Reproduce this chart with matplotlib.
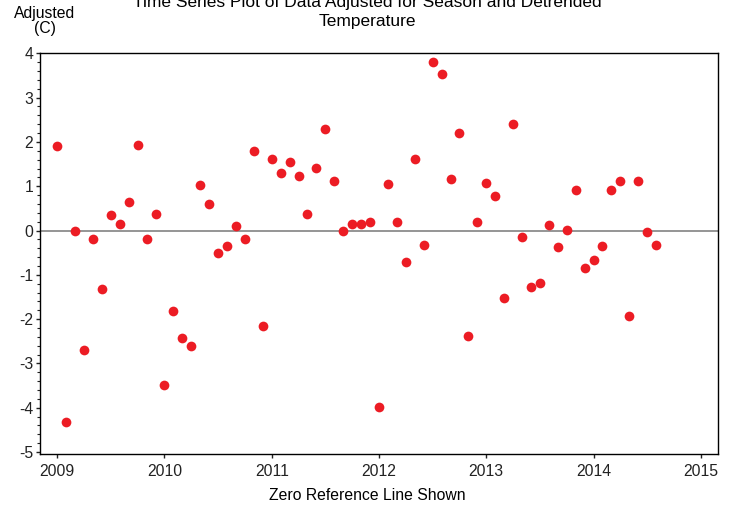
from matplotlib import pyplot as plt
from matplotlib.ticker import MultipleLocator
import numpy

# monthly series, Jan 2009 .. Aug 2014
start_year = 2009
adjusted = [1.91, -4.32, -0.02, -2.70, -0.20, -1.33, 0.34, 0.15, 0.65, 1.94, -0.19, 0.37,
            -3.49, -1.81, -2.43, -2.61, 1.02, 0.59, -0.51, -0.35, 0.10, -0.20, 1.79, -2.16,
            1.61, 1.30, 1.55, 1.23, 0.37, 1.42, 2.29, 1.12, -0.02, 0.14, 0.14, 0.20,
            -3.99, 1.04, 0.20, -0.70, 1.61, -0.32, 3.81, 3.53, 1.17, 2.21, -2.39, 0.20,
            1.08, 0.78, -1.53, 2.40, -0.14, -1.27, -1.19, 0.12, -0.38, 0.02, 0.92, -0.85,
            -0.66, -0.36, 0.91, 1.12, -1.94, 1.12, -0.03, -0.32]
year_ticks = [2009, 2010, 2011, 2012, 2013, 2014, 2015]
y_ticks = [4, 3, 2, 1, 0, -1, -2, -3, -4, -5]

plt.rcParams['font.family'] = ['Liberation Sans', 'DejaVu Sans']
plt.rcParams['axes.unicode_minus'] = False

x = start_year + numpy.arange(len(adjusted)) / 12.0

fig = plt.figure(figsize=(7.35, 5.07), dpi=100)
ax = fig.add_axes([40 / 735, 1 - 454.3 / 507, 678 / 735, (454.3 - 53.3) / 507])

ax.axhline(0, color='#8c8c8c', lw=1.3, zorder=1)
ax.plot(x, adjusted, 'o', color='#ec1c24', markersize=7, markeredgewidth=0, zorder=3)

ax.set_xlim(2008.84, 2015.16)
ax.set_ylim(-5.05, 4.0)
ax.set_xticks(year_ticks)
ax.set_yticks(y_ticks)
ax.yaxis.set_minor_locator(MultipleLocator(0.2))

for s in ax.spines.values():
  s.set_linewidth(1.0)
  s.set_color('black')

ax.tick_params(axis='x', which='major', length=3, width=1.0, pad=4, labelsize=11.3, colors='#222222')
ax.tick_params(axis='y', which='major', length=3, width=1.0, pad=2, labelsize=11.3, colors='#222222')
ax.tick_params(axis='y', which='minor', length=2, width=0.8, colors='#222222')

# title sits partly above the top edge, as in the source picture
fig.text(0.5, 1 - 6.7 / 507, 'Time Series Plot of Data Adjusted for Season and Detrended',
         ha='center', va='baseline', fontsize=12.5)
fig.text(0.5, 1 - 25.7 / 507, 'Temperature', ha='center', va='baseline', fontsize=12.5)

fig.text(44.5 / 735, 1 - 18.3 / 507, 'Adjusted', ha='center', va='baseline', fontsize=11.3)
fig.text(44.5 / 735, 1 - 32.7 / 507, '(C)', ha='center', va='baseline', fontsize=11.3)

fig.text(0.5, 1 - 500 / 507, 'Zero Reference Line Shown', ha='center', va='baseline', fontsize=11.3)

fig.savefig('out.png', dpi=100)
